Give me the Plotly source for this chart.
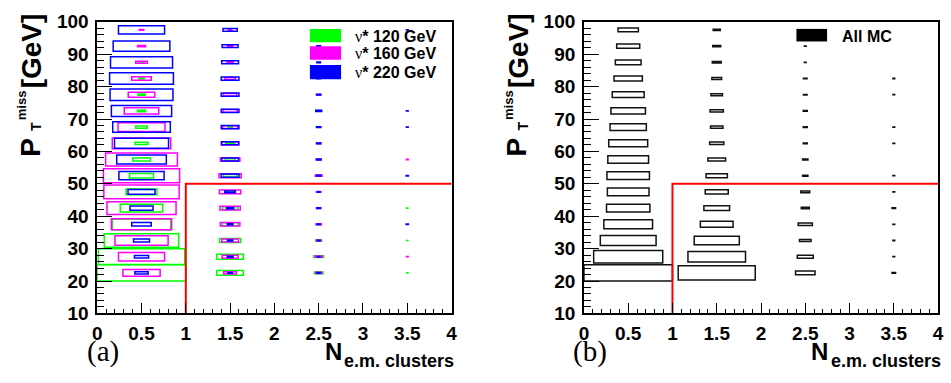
import plotly.graph_objects as go

W, H = 951, 383

# ---------------- data ----------------
# bin centres
y_centers = [22.5, 27.5, 32.5, 37.5, 42.5, 47.5, 52.5, 57.5,
             62.5, 67.5, 72.5, 77.5, 82.5, 87.5, 92.5, 97.5]
x_centers = [0.5, 1.5, 2.5, 3.5]
x_bin_width = 1.0
y_bin_width = 5.0
z_max = 1.0  # relative bin content of the largest cell

# Panel (a): nu* 120 GeV  (relative content per N-cluster column, bottom -> top)
nu120_n0 = [1.0, 0.975, 0.84, 0.66, 0.48, 0.35, 0.27, 0.20, 0.145, 0.13, 0.09, 0.08, 0.06, 0.06, 0, 0]
nu120_n1 = [0.30, 0.30, 0.24, 0.18, 0.175, 0.10, 0.15, 0.11, 0.10, 0.05, 0, 0, 0, 0, 0, 0]
nu120_n2 = [0.097, 0.11, 0.067, 0.05, 0, 0, 0, 0, 0, 0, 0, 0, 0, 0, 0, 0]
nu120_n3 = [0.015, 0, 0.015, 0, 0.015, 0, 0, 0, 0, 0, 0, 0, 0, 0, 0, 0]

# nu* 160 GeV
nu160_n0 = [0.42, 0.52, 0.60, 0.68, 0.78, 0.85, 0.86, 0.81, 0.66, 0.53, 0.39, 0.30, 0.22, 0.13, 0.09, 0.05]
nu160_n1 = [0.145, 0.18, 0.19, 0.22, 0.23, 0.24, 0.25, 0.22, 0.20, 0.17, 0.16, 0.15, 0.12, 0.07, 0.06, 0.04]
nu160_n2 = [0.07, 0.08, 0.05, 0.06, 0.05, 0.05, 0.075, 0.03, 0.04, 0.03, 0.04, 0.03, 0, 0, 0, 0]
nu160_n3 = [0, 0.02, 0, 0, 0, 0, 0, 0.02, 0, 0, 0, 0, 0, 0, 0, 0]

# nu* 220 GeV
nu220_n0 = [0.15, 0.16, 0.18, 0.22, 0.26, 0.305, 0.51, 0.56, 0.61, 0.65, 0.68, 0.71, 0.72, 0.70, 0.64, 0.52]
nu220_n1 = [0.05, 0.065, 0.06, 0.063, 0.08, 0.12, 0.20, 0.19, 0.19, 0.20, 0.20, 0.20, 0.20, 0.19, 0.18, 0.16]
nu220_n2 = [0.04, 0.03, 0.03, 0.03, 0.04, 0.03, 0.05, 0.056, 0.05, 0.05, 0.067, 0.05, 0.04, 0.04, 0.04, 0.03]
nu220_n3 = [0, 0, 0, 0.025, 0, 0, 0.025, 0, 0, 0.02, 0.02, 0, 0, 0, 0, 0.02]

# Panel (b): all MC
mc_n0 = [1.0, 0.78, 0.63, 0.55, 0.49, 0.47, 0.48, 0.46, 0.44, 0.41, 0.39, 0.36, 0.32, 0.29, 0.26, 0.23]
mc_n1 = [0.87, 0.65, 0.51, 0.37, 0.29, 0.26, 0.24, 0.20, 0.16, 0.14, 0.15, 0.13, 0.11, 0.10, 0.09, 0.08]
mc_n2 = [0.22, 0.18, 0.13, 0.16, 0.09, 0.10, 0.06, 0.06, 0.045, 0.045, 0.045, 0.04, 0.04, 0.02, 0.02, 0.02]
mc_n3 = [0.04, 0.02, 0.02, 0.02, 0.04, 0.02, 0.02, 0, 0.02, 0.02, 0, 0.02, 0.02, 0, 0, 0]

# selection cut
cut_n = 1.0
cut_pt = 50.0

x_ticks = [0, 0.5, 1, 1.5, 2, 2.5, 3, 3.5, 4]
x_tick_labels = ["0", "0.5", "1", "1.5", "2", "2.5", "3", "3.5", "4"]
y_ticks = [10, 20, 30, 40, 50, 60, 70, 80, 90, 100]

legend_a = ["120 GeV", "160 GeV", "220 GeV"]
legend_b = ["All MC"]

GREEN, MAGENTA, BLUE = "#00ff00", "#ff00ff", "#0000ff"

# ---------------- figure ----------------
fig = go.Figure()
shapes = []


def add_boxes(columns, color, xref, yref, width=1.5):
    for xc, vals in zip(x_centers, columns):
        for yc, v in zip(y_centers, vals):
            if v <= 0:
                continue
            f = v / z_max
            hw = 0.5 * x_bin_width * f
            hh = 0.5 * y_bin_width * f
            shapes.append(dict(type="rect", xref=xref, yref=yref,
                               x0=xc - hw, x1=xc + hw, y0=yc - hh, y1=yc + hh,
                               line=dict(color=color, width=width),
                               fillcolor="rgba(0,0,0,0)", layer="below"))


add_boxes([nu120_n0, nu120_n1, nu120_n2, nu120_n3], GREEN, "x", "y")
add_boxes([nu160_n0, nu160_n1, nu160_n2, nu160_n3], MAGENTA, "x", "y")
add_boxes([nu220_n0, nu220_n1, nu220_n2, nu220_n3], BLUE, "x", "y")
add_boxes([mc_n0, mc_n1, mc_n2, mc_n3], "#111111", "x2", "y2")

# cut lines
for xa, ya in (("x", "y"), ("x2", "y2")):
    fig.add_trace(go.Scatter(x=[cut_n, cut_n, x_ticks[-1]], y=[y_ticks[0], cut_pt, cut_pt],
                             mode="lines", line=dict(color="#ff0000", width=2),
                             xaxis=xa, yaxis=ya, showlegend=False, hoverinfo="skip"))

y_bot_px, y_top_px = 321.0, 12.5
ax_a = (93.3, 451.8)
ax_b = (585.7, 944.0)


def px(x):
    return x / W


def py(y):
    return 1 - y / H


axis_common = dict(showline=True, linecolor="black", linewidth=1.6, mirror=True,
                   ticks="inside", tickcolor="black", tickwidth=1.2,
                   showgrid=False, zeroline=False,
                   tickfont=dict(family="Liberation Sans", size=19, color="black", weight="bold"))

for i, (x0p, x1p) in enumerate((ax_a, ax_b)):
    sfx = "" if i == 0 else str(i + 1)
    fig.layout["xaxis" + sfx] = dict(
        axis_common, domain=[px(x0p), px(x1p)], range=[0, 4],
        tickvals=x_ticks, ticktext=x_tick_labels, ticklen=11,
        minor=dict(dtick=0.1, ticklen=5, ticks="inside", tickcolor="black", tickwidth=1),
        anchor="y" + sfx, ticklabelstandoff=2)
    fig.layout["yaxis" + sfx] = dict(
        axis_common, domain=[py(y_bot_px), py(y_top_px)], range=[10, 100],
        tickvals=y_ticks, ticklen=15,
        minor=dict(dtick=2, ticklen=7, ticks="inside", tickcolor="black", tickwidth=1),
        anchor="x" + sfx, ticklabelstandoff=3)

# legend swatches
sw_a = [(20, 34, GREEN), (38.3, 52.7, MAGENTA), (58.3, 73.3, BLUE)]
for (ya0, ya1, c) in sw_a:
    shapes.append(dict(type="rect", xref="paper", yref="paper",
                       x0=px(308.5), x1=px(340), y0=py(ya1), y1=py(ya0),
                       fillcolor=c, line=dict(width=0), layer="above"))
shapes.append(dict(type="rect", xref="paper", yref="paper",
                   x0=px(800.7), x1=px(831.7), y0=py(33.3), y1=py(20),
                   fillcolor="black", line=dict(width=0), layer="above"))

fig.update_layout(shapes=shapes)

ann = []
for lbl, yc in zip(legend_a, (28.5, 46.5, 66.5)):
    ann.append(dict(x=px(352), y=py(yc), xref="paper", yref="paper", xanchor="left", yanchor="middle",
                    showarrow=False,
                    text="<span style=\"font-family:'Liberation Serif';font-weight:normal\">ν</span>* " + lbl,
                    font=dict(family="Liberation Sans", size=16, color="black", weight="bold")))
ann.append(dict(x=px(845), y=py(28.5), xref="paper", yref="paper", xanchor="left", yanchor="middle",
                showarrow=False, text=legend_b[0],
                font=dict(family="Liberation Sans", size=16, color="black", weight="bold")))

for off, lab in ((0.0, "(a)"), (492.4, "(b)")):
    # y title
    bold = dict(family="Liberation Sans", color="black", weight="bold")
    ann.append(dict(x=px(25 + off), y=py(145), xref="paper", yref="paper", text="P", textangle=-90,
                    showarrow=False, xanchor="center", yanchor="middle", font=dict(bold, size=28)))
    ann.append(dict(x=px(17 + off), y=py(101), xref="paper", yref="paper", text="miss", textangle=-90,
                    showarrow=False, xanchor="center", yanchor="middle", font=dict(bold, size=13)))
    ann.append(dict(x=px(32 + off), y=py(123), xref="paper", yref="paper", text="T", textangle=-90,
                    showarrow=False, xanchor="center", yanchor="middle", font=dict(bold, size=14)))
    ann.append(dict(x=px(27 + off), y=py(43), xref="paper", yref="paper", text="[GeV]", textangle=-90,
                    showarrow=False, xanchor="center", yanchor="middle", font=dict(bold, size=28)))
    # x title
    ann.append(dict(x=px(332 + off), y=py(361), xref="paper", yref="paper", text="N",
                    showarrow=False, xanchor="center", yanchor="middle", font=dict(bold, size=24)))
    ann.append(dict(x=px(341 + off), y=py(371), xref="paper", yref="paper", text="e.m. clusters",
                    showarrow=False, xanchor="left", yanchor="middle", font=dict(bold, size=18)))
    # panel label
    ann.append(dict(x=px(99 + off), y=py(361), xref="paper", yref="paper", text=lab,
                    showarrow=False, xanchor="center", yanchor="middle",
                    font=dict(family="Liberation Serif", size=29, color="black")))

fig.update_layout(annotations=ann, width=W, height=H,
                  margin=dict(l=0, r=0, t=0, b=0),
                  paper_bgcolor="white", plot_bgcolor="white", showlegend=False)

fig.write_html("out.html", config={"displayModeBar": False},
               post_script="document.body.style.margin='0';document.body.style.overflow='hidden';")
